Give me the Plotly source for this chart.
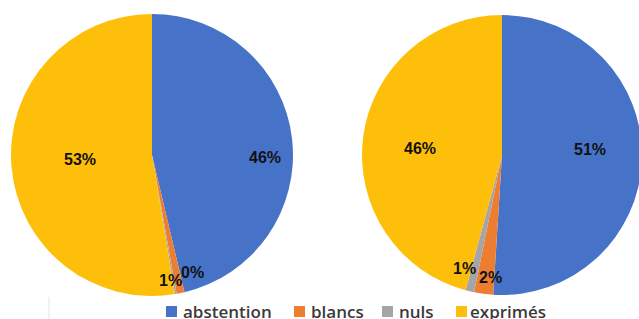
import math
import plotly.graph_objects as go

# ---- data ----
categories = ["abstention", "blancs", "nuls", "exprimés"]
left_values = [46.3, 0.9, 0.2, 52.6]
right_values = [51.0, 2.2, 1.0, 45.8]
colors = ["#4673C8", "#ED7D31", "#A5A5A5", "#FEBF0A"]

# ---- layout helpers (pixels) ----
W, H = 645, 319


def px(x):
    return x / W


def py(y):
    return 1 - y / H


pies = [
    dict(values=left_values, cx=152, cy=155, R=141,
         lab_r=[0.80, 0.90, 0.88, 0.51], lab_shift=[7.7, 3.5, -9.2, 0.7]),
    dict(values=right_values, cx=502, cy=155, R=140,
         lab_r=[0.63, 0.875, 0.85, 0.59], lab_shift=[-5.1, -2.4, 4.8, -2.7]),
]

fig = go.Figure()
annotations = []
for p in pies:
    cx, cy, R = p["cx"], p["cy"], p["R"]
    fig.add_trace(go.Pie(
        labels=categories, values=p["values"], sort=False,
        direction="clockwise", rotation=0,
        marker=dict(colors=colors, line=dict(width=0)),
        textinfo="none", hoverinfo="label+percent", showlegend=False,
        domain=dict(x=[px(cx - R), px(cx + R)], y=[py(cy + R), py(cy - R)]),
    ))
    total = sum(p["values"])
    cum = 0.0
    for v, rf, sh in zip(p["values"], p["lab_r"], p["lab_shift"]):
        mid = (cum + v / 2) / total * 360 + sh
        cum += v
        ang = math.radians(mid)
        lx = cx + math.sin(ang) * rf * R
        ly = cy - math.cos(ang) * rf * R
        annotations.append(dict(
            x=px(lx), y=py(ly), xref="paper", yref="paper",
            text=f"{round(v / total * 100)}%", showarrow=False,
            xanchor="center", yanchor="middle",
            font=dict(family="Liberation Sans", size=16, color="#111111", weight="bold"),
        ))

# custom legend
legend_sq_x = [166, 294, 382, 456]
legend_txt_x = [181, 309, 397, 468]
shapes = []
for c, sx, tx, name in zip(colors, legend_sq_x, legend_txt_x, categories):
    shapes.append(dict(type="rect", xref="paper", yref="paper",
                       x0=px(sx), x1=px(sx + 11), y0=py(317), y1=py(306),
                       fillcolor=c, line=dict(width=0)))
    annotations.append(dict(
        x=px(tx), y=py(311), xref="paper", yref="paper", text=name,
        showarrow=False, xanchor="left", yanchor="middle",
        font=dict(family="Open Sans", size=17, color="#3a3a3a", weight=600),
    ))

shapes.append(dict(type="line", xref="paper", yref="paper",
                   x0=px(49), x1=px(49), y0=py(297), y1=py(319),
                   line=dict(color="#dfe4ec", width=1)))

fig.update_layout(
    width=W, height=H,
    margin=dict(l=0, r=0, t=0, b=0, pad=0),
    paper_bgcolor="white", plot_bgcolor="white",
    annotations=annotations, shapes=shapes,
)

fig.write_html(
    "out.html",
    config={"displayModeBar": False},
    post_script="document.body.style.margin='0';document.body.style.overflow='hidden';",
)
